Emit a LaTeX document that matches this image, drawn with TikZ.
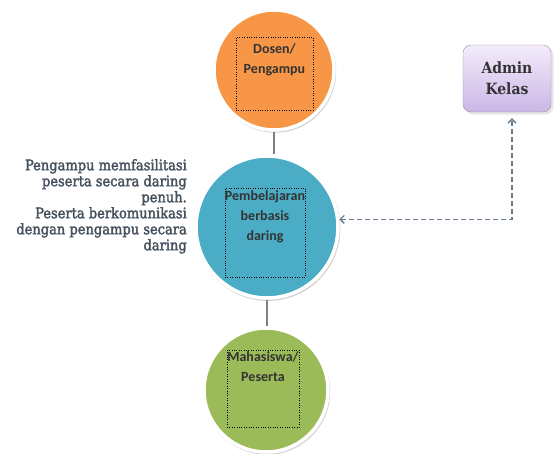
\documentclass[tikz,border=0pt]{standalone}
\usepackage{fontspec}
\setmainfont{DejaVu Serif}
\newfontfamily\calibri{Carlito}
\newfontfamily\cambria{DejaVu Serif Condensed}[FakeBold=2.2]
\newfontfamily\cambriahead{DejaVu Serif Condensed}
\usetikzlibrary{positioning,arrows.meta,shadows}
\definecolor{orangefill}{HTML}{F79646}
\definecolor{bluefill}{HTML}{4BACC6}
\definecolor{greenfill}{HTML}{9BBB59}
\definecolor{notetext}{HTML}{45515D}
\definecolor{dashline}{HTML}{6A7E92}
\definecolor{admintop}{HTML}{F3ECFB}
\definecolor{adminbottom}{HTML}{CBB6E5}
\definecolor{adminedge}{HTML}{9A8DAE}
\tikzset{
    role-circle/.style = {circle, draw=white, line width=3.5pt, drop shadow={opacity=0.35, shadow xshift=1pt, shadow yshift=-1.5pt, shadow scale=1.02}},
    dotted-box/.style = {draw=black, dotted, thin, rectangle, inner sep=0pt},
    role-text/.style = {font=\calibri\bfseries\fontsize{14}{20}\selectfont, text=black!80, align=center, inner sep=0pt},
    note-text/.style = {font=\cambria\fontsize{14.5}{16}\selectfont, text=notetext, align=right, inner sep=0pt},
    admin-box/.style = {draw=adminedge, rounded corners=8pt, top color=admintop, bottom color=adminbottom, minimum width=88pt, minimum height=67pt, text=black!80, font=\cambriahead\bfseries\fontsize{15.5}{21}\selectfont, align=center, drop shadow={opacity=0.2}},
    link/.style = {draw=gray, line width=1.2pt},
    dash-link/.style = {draw=dashline, line width=1.4pt, dash pattern=on 5pt off 3pt, {Straight Barb[length=4pt,width=8pt]}-{Straight Barb[length=4pt,width=8pt]}},
}
\begin{document}
\begin{tikzpicture}[x=1pt, y=-1pt]
\useasboundingbox (0,0) rectangle (554,454);
% circles
\node[role-circle, fill=orangefill, minimum size=120pt] (dosen) at (274,70) {};
\node[role-circle, fill=bluefill, minimum size=142pt] (daring) at (267,227) {};
\node[role-circle, fill=greenfill, minimum size=124pt] (mahasiswa) at (266,390) {};
\draw[link] (dosen.south) -- (dosen.south |- daring.north);
\draw[link] (daring.south) -- (daring.south |- mahasiswa.north);
% dotted text boxes
\node[dotted-box, minimum width=77pt, minimum height=73pt] (dosen-box) at (274.5,73.5) {};
\node[dotted-box, minimum width=80pt, minimum height=89pt] (daring-box) at (265,232.5) {};
\node[dotted-box, minimum width=72pt, minimum height=77pt] (mahasiswa-box) at (263,388.5) {};
\node[role-text, below=7pt of dosen-box.north] (dosen-text) {Dosen/\\Pengampu};
\node[role-text, below=3pt of daring-box.north] (daring-text) {Pembelajaran\\berbasis\\daring};
\node[role-text, below=2pt of mahasiswa-box.north] (mahasiswa-text) {Mahasiswa/\\Peserta};
% note on the left
\node[note-text, anchor=north east] (note) at (187,159) {Pengampu memfasilitasi\\peserta secara daring\\penuh.\\Peserta berkomunikasi\\dengan pengampu secara\\daring};
% admin
\node[admin-box] (admin) at (507,78.5) {Admin\\Kelas};
\coordinate (turn) at (512,0);
\draw[dash-link] (daring.6) -| ([yshift=-6pt]turn |- admin.south);
\end{tikzpicture}
\end{document}
